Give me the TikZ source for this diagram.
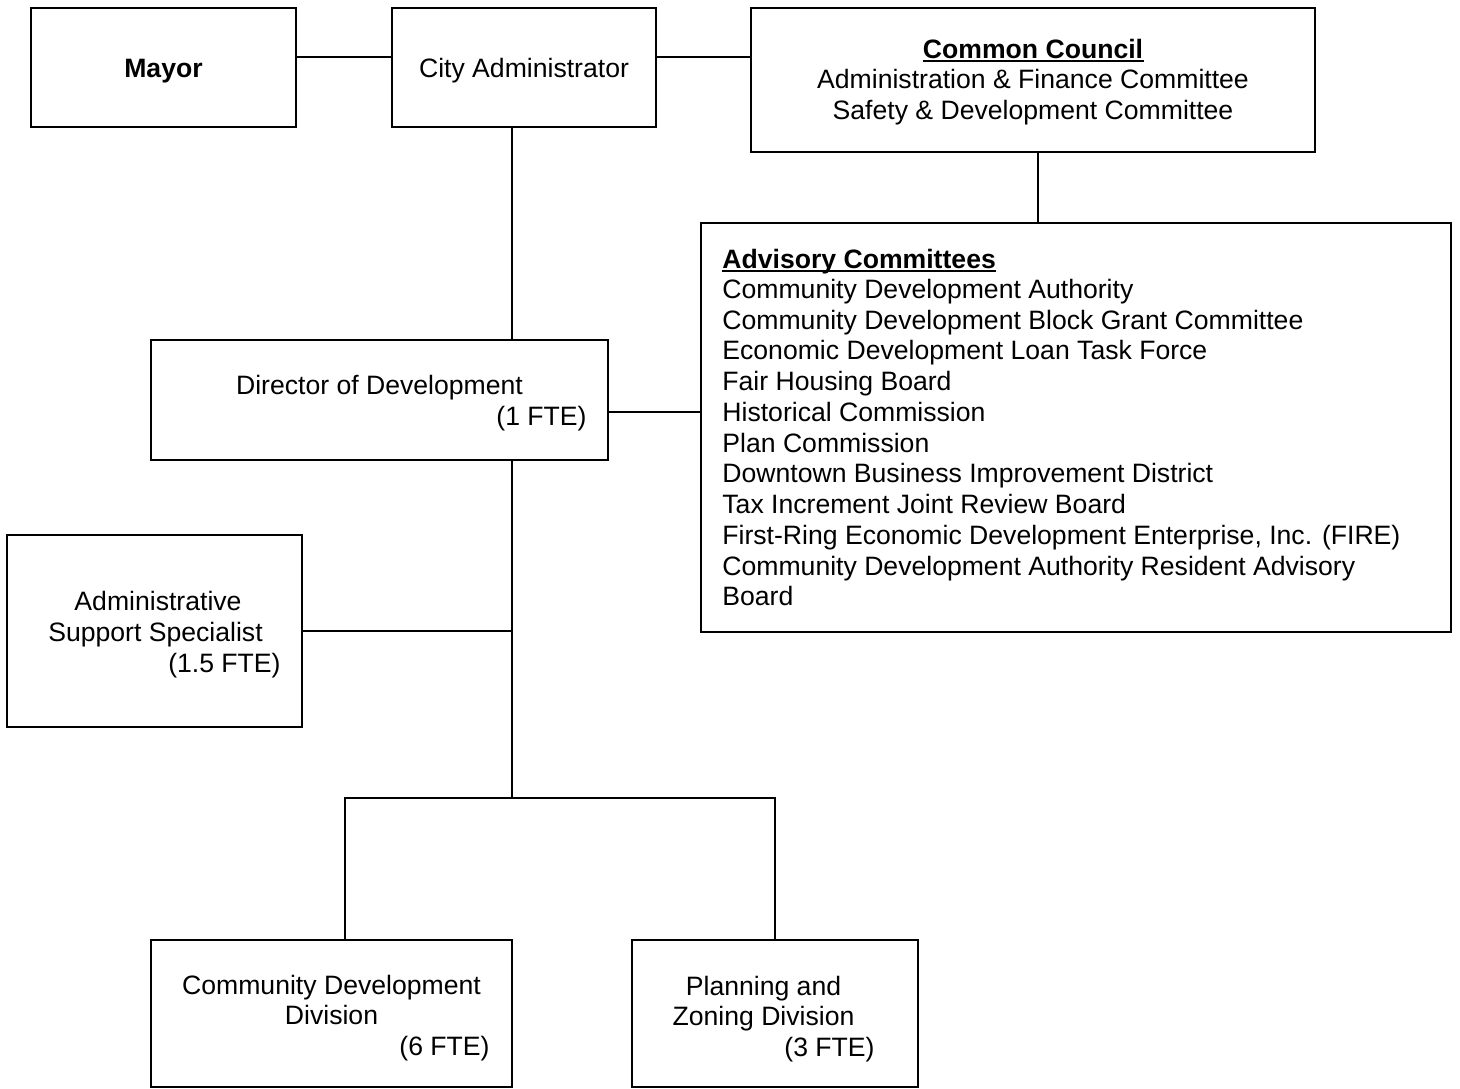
\documentclass[tikz,border=0pt]{standalone}
\usepackage{fontspec}
\setmainfont{Liberation Sans}
\begin{document}
\fontsize{13.3}{15.35}\selectfont
\begin{tikzpicture}[x=0.5pt,y=-0.5pt,
  box/.style={draw=black,line width=1.2pt,rectangle,inner sep=0pt},
  txt/.style={inner sep=0pt,anchor=base,font=\fontsize{13.3}{15.35}\selectfont},
  txtl/.style={txt,anchor=base west},
  txtr/.style={txt,anchor=base east},
  wire/.style={draw=black,line width=1.2pt,line join=miter},
  uline/.style={draw=black,line width=1.1pt}]
\useasboundingbox (0,0) rectangle (1460,1088);

% boxes
\node[box,minimum width=132.5pt,minimum height=59.5pt] (mayor) at (163.5,67.5) {};
\node[box,minimum width=132pt,minimum height=59.5pt] (cityadm) at (524,67.5) {};
\node[box,minimum width=282pt,minimum height=72pt] (council) at (1033,80) {};
\node[box,minimum width=375pt,minimum height=204.5pt] (advisory) at (1076,427.5) {};
\node[box,minimum width=228.5pt,minimum height=60pt] (director) at (379.5,400) {};
\node[box,minimum width=147.5pt,minimum height=96pt] (support) at (154.5,631) {};
\node[box,minimum width=180.5pt,minimum height=73.5pt] (cdd) at (331.5,1013.5) {};
\node[box,minimum width=143pt,minimum height=73.5pt] (pzd) at (775,1013.5) {};

% texts
\node[txt] (tmayor) at (163.5,77) {\bfseries Mayor};
\node[txt] (tcity) at (524,77) {City Administrator};
\node[txt] (tcc) at (1033,58) {\bfseries Common Council};
\node[txt] (tcc2) at (1033,88) {Administration \& Finance Committee};
\node[txt] (tcc3) at (1033,119) {Safety \& Development Committee};
\draw[uline] ([yshift=-1.6pt]tcc.base west) -- ([yshift=-1.6pt]tcc.base east);

\node[txtl] (ta0) at (722,268) {\bfseries Advisory Committees};
\draw[uline] ([yshift=-1.6pt]ta0.base west) -- ([yshift=-1.6pt]ta0.base east);
\node[txtl] (ta1) at (722,298) {Community Development Authority};
\node[txtl] (ta2) at (722,329) {Community Development Block Grant Committee};
\node[txtl] (ta3) at (722,359) {Economic Development Loan Task Force};
\node[txtl] (ta4) at (722,390) {Fair Housing Board};
\node[txtl] (ta5) at (722,421) {Historical Commission};
\node[txtl] (ta6) at (722,452) {Plan Commission};
\node[txtl] (ta7) at (722,482) {Downtown Business Improvement District};
\node[txtl] (ta8) at (722,513) {Tax Increment Joint Review Board};
\node[txtl] (ta9) at (722,544) {First-Ring Economic Development Enterprise, Inc. (FIRE)};
\node[txtl] (ta10) at (722,575) {Community Development Authority Resident Advisory};
\node[txtl] (ta11) at (722,605) {Board};

\node[txt] (tdir) at (379.5,394) {Director of Development};
\node[txtr] (tdir2) at (587,425) {(1 FTE)};

\node[txt] (tsup1) at (158,610) {Administrative};
\node[txt] (tsup2) at (155.5,641) {Support Specialist};
\node[txtr] (tsup3) at (281,672) {(1.5 FTE)};

\node[txt] (tcdd1) at (331.5,994) {Community Development};
\node[txt] (tcdd2) at (331.5,1024) {Division};
\node[txtr] (tcdd3) at (490,1055) {(6 FTE)};

\node[txt] (tpzd1) at (763.5,995) {Planning and};
\node[txt] (tpzd2) at (763.5,1025) {Zoning Division};
\node[txtr] (tpzd3) at (875,1056) {(3 FTE)};

% connector guides
\coordinate (toprow) at (0,57);
\coordinate (trunk) at (512,0);
\coordinate (ccdrop) at (1038,0);
\coordinate (dirrow) at (0,412);
\coordinate (suptap) at (512,631);
\coordinate (busmid) at (512,798);
\coordinate (busl) at (345,798);
\coordinate (busr) at (775,798);

% connectors
\draw[wire] (mayor.east |- toprow) -- (cityadm.west |- toprow);
\draw[wire] (cityadm.east |- toprow) -- (council.west |- toprow);
\draw[wire] (council.south -| ccdrop) -- (advisory.north -| ccdrop);
\draw[wire] (cityadm.south -| trunk) -- (director.north -| trunk);
\draw[wire] (director.east |- dirrow) -- (advisory.west |- dirrow);
\draw[wire] (director.south -| trunk) -- (busmid);
\draw[wire] (support.east) -- (suptap);
\draw[wire] (cdd.north -| busl) -- (busl) -- (busr) -- (pzd.north);
\end{tikzpicture}
\end{document}
